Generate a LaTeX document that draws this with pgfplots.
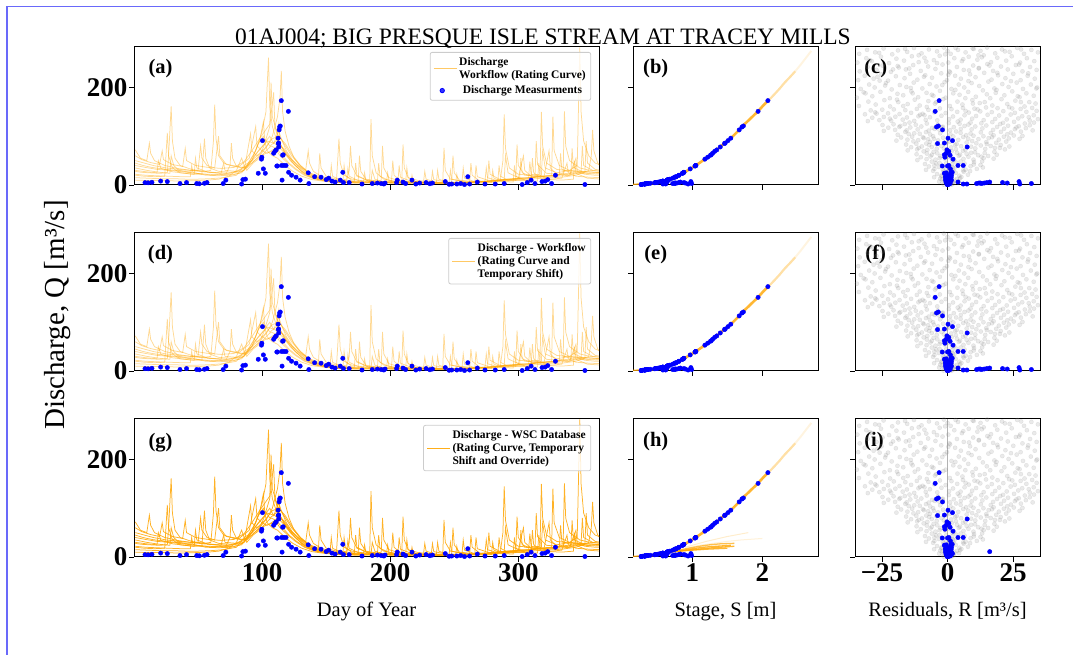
\documentclass[border=0pt]{standalone}
\usepackage{fontspec}
\setmainfont{Liberation Serif}
\usepackage{pgfplots}
\usepackage{pgfplotstable}
\pgfplotsset{compat=1.18}

\definecolor{qorange}{RGB}{255,165,0}
\definecolor{frameblue}{RGB}{105,105,250}
\definecolor{legframe}{RGB}{204,204,204}
\definecolor{zeroline}{RGB}{178,178,178}

\newcommand{\tickfont}{\bfseries\fontsize{27}{27}\selectfont}
\newcommand{\legfont}{\bfseries\fontsize{11.5}{13}\selectfont}
\newcommand{\panfont}{\bfseries\fontsize{20.5}{21}\selectfont}
\newcommand{\labfont}{\fontsize{20.5}{21}\selectfont}

% daily discharge, one table per year (day, Q)
\pgfplotstableread[row sep=\\]{d q\\
1 35\\ 10 30\\ 20 26\\ 28 24\\ 29 60\\ 31 40\\ 35 30\\ 45 25\\ 55 22\\ 62 20\\ 70 22\\ 80 28\\ 88 40\\ 95 70\\ 100 110\\ 103 150\\ 105 261\\ 106 160\\ 108 120\\ 111 95\\ 115 80\\ 120 60\\ 126 40\\ 132 25\\ 140 15\\ 150 9\\ 160 6\\ 170 5\\ 180 4\\ 185 5\\ 186 30\\ 188 12\\ 195 6\\ 210 4\\ 225 3\\ 240 3\\ 250 4\\ 260 5\\ 270 6\\ 280 8\\ 289 10\\ 290 60\\ 292 25\\ 300 15\\ 310 14\\ 318 20\\ 319 70\\ 321 35\\ 330 25\\ 340 30\\ 346 40\\ 348 282\\ 349 150\\ 351 90\\ 355 60\\ 360 45\\ 365 40\\
}\hA
\pgfplotstableread[row sep=\\]{d q\\
1 50\\ 8 45\\ 15 40\\ 25 35\\ 35 32\\ 45 30\\ 55 28\\ 60 30\\ 62 90\\ 63 165\\ 64 95\\ 66 60\\ 70 45\\ 78 38\\ 85 35\\ 92 45\\ 98 60\\ 104 80\\ 108 100\\ 112 140\\ 114 180\\ 115 234\\ 116 150\\ 118 110\\ 121 80\\ 125 55\\ 130 38\\ 136 25\\ 142 16\\ 150 10\\ 158 7\\ 159 50\\ 160 95\\ 161 45\\ 164 20\\ 170 12\\ 180 8\\ 190 6\\ 200 5\\ 209 5\\ 210 83\\ 211 35\\ 214 15\\ 222 9\\ 235 6\\ 250 5\\ 265 5\\ 278 6\\ 290 8\\ 298 9\\ 299 83\\ 300 40\\ 305 20\\ 315 18\\ 326 20\\ 327 140\\ 328 70\\ 332 40\\ 340 30\\ 350 28\\ 360 26\\ 365 25\\
}\hB
\pgfplotstableread[row sep=\\]{d q\\
1 28\\ 6 26\\ 12 25\\ 20 24\\ 26 25\\ 27 60\\ 29 161\\ 30 90\\ 32 55\\ 36 40\\ 45 32\\ 55 28\\ 65 25\\ 75 24\\ 85 28\\ 92 50\\ 97 70\\ 102 85\\ 106 120\\ 109 190\\ 110 120\\ 113 90\\ 117 70\\ 122 50\\ 128 35\\ 134 22\\ 140 14\\ 148 9\\ 156 6\\ 165 5\\ 175 4\\ 184 5\\ 185 135\\ 186 60\\ 189 25\\ 195 12\\ 205 7\\ 218 5\\ 230 4\\ 241 4\\ 242 76\\ 243 30\\ 247 12\\ 258 7\\ 270 6\\ 282 8\\ 295 12\\ 308 15\\ 320 18\\ 330 20\\ 335 25\\ 336 151\\ 337 80\\ 340 50\\ 348 35\\ 356 30\\ 365 28\\
}\hC
\pgfplotstableread[row sep=\\]{d q\\
1 72\\ 5 55\\ 10 50\\ 12 86\\ 13 65\\ 16 50\\ 24 40\\ 34 34\\ 44 30\\ 54 27\\ 64 25\\ 72 24\\ 75 40\\ 76 86\\ 77 55\\ 80 38\\ 88 35\\ 94 60\\ 99 75\\ 104 90\\ 110 85\\ 116 70\\ 122 55\\ 128 40\\ 134 30\\ 136 70\\ 137 45\\ 140 28\\ 146 18\\ 155 11\\ 165 8\\ 176 6\\ 190 5\\ 205 4\\ 220 4\\ 235 4\\ 248 4\\ 249 60\\ 250 25\\ 254 10\\ 265 7\\ 276 8\\ 286 10\\ 288 50\\ 289 145\\ 290 75\\ 293 35\\ 300 22\\ 310 20\\ 317 22\\ 318 150\\ 319 80\\ 322 45\\ 330 32\\ 342 28\\ 355 27\\ 365 25\\
}\hD
\pgfplotstableread[row sep=\\]{d q\\
1 20\\ 8 18\\ 16 17\\ 24 18\\ 26 107\\ 27 60\\ 30 35\\ 36 25\\ 46 22\\ 53 22\\ 55 95\\ 56 55\\ 59 35\\ 66 28\\ 76 26\\ 86 30\\ 91 105\\ 92 70\\ 96 60\\ 102 75\\ 108 95\\ 113 100\\ 118 85\\ 124 60\\ 130 40\\ 137 25\\ 144 18\\ 145 65\\ 146 35\\ 150 18\\ 158 12\\ 166 9\\ 168 30\\ 169 80\\ 170 40\\ 174 18\\ 182 10\\ 192 7\\ 200 7\\ 215 5\\ 230 4\\ 245 4\\ 260 5\\ 272 6\\ 284 8\\ 296 10\\ 308 12\\ 320 14\\ 334 16\\ 345 20\\ 355 30\\ 357 60\\ 358 113\\ 359 70\\ 362 45\\ 365 35\\
}\hE
\pgfplotstableread[row sep=\\]{d q\\
1 45\\ 7 40\\ 14 36\\ 22 33\\ 32 30\\ 42 28\\ 50 30\\ 52 80\\ 53 55\\ 57 40\\ 63 35\\ 66 100\\ 67 60\\ 72 42\\ 82 38\\ 90 55\\ 95 120\\ 96 80\\ 100 70\\ 104 65\\ 110 75\\ 114 60\\ 120 45\\ 126 32\\ 133 20\\ 140 13\\ 150 8\\ 160 6\\ 168 5\\ 175 6\\ 176 60\\ 177 28\\ 181 12\\ 190 8\\ 193 10\\ 194 80\\ 195 35\\ 199 15\\ 208 8\\ 220 6\\ 232 5\\ 244 5\\ 256 5\\ 268 6\\ 280 9\\ 292 12\\ 304 14\\ 316 16\\ 328 20\\ 340 22\\ 352 24\\ 365 22\\
}\hF
\pgfplotstableread[row sep=\\]{d q\\
1 15\\ 10 14\\ 20 13\\ 30 13\\ 40 12\\ 50 12\\ 60 13\\ 70 15\\ 80 20\\ 86 40\\ 88 30\\ 93 45\\ 98 55\\ 103 70\\ 107 80\\ 111 75\\ 116 60\\ 121 45\\ 127 32\\ 134 20\\ 142 12\\ 150 8\\ 157 6\\ 163 5\\ 164 40\\ 165 20\\ 170 9\\ 180 6\\ 192 5\\ 203 4\\ 212 4\\ 213 35\\ 214 15\\ 220 7\\ 228 4\\ 236 4\\ 237 30\\ 238 12\\ 245 5\\ 255 4\\ 262 4\\ 263 45\\ 264 20\\ 270 8\\ 278 6\\ 284 6\\ 285 40\\ 286 18\\ 292 10\\ 302 9\\ 310 10\\ 311 55\\ 312 25\\ 318 14\\ 326 12\\ 334 14\\ 338 45\\ 339 25\\ 345 18\\ 355 16\\ 365 15\\
}\hG
\pgfplotstableread[row sep=\\]{d q\\
1 40\\ 9 36\\ 18 32\\ 28 30\\ 38 27\\ 48 24\\ 58 22\\ 68 21\\ 78 22\\ 84 25\\ 90 45\\ 94 55\\ 99 65\\ 103 90\\ 106 100\\ 109 85\\ 113 110\\ 115 95\\ 119 70\\ 124 50\\ 130 35\\ 136 23\\ 142 16\\ 148 12\\ 154 10\\ 160 9\\ 166 12\\ 167 35\\ 168 18\\ 175 9\\ 185 7\\ 195 6\\ 201 6\\ 202 50\\ 203 20\\ 208 9\\ 218 6\\ 226 6\\ 227 28\\ 228 12\\ 235 6\\ 246 5\\ 256 5\\ 266 6\\ 274 8\\ 275 35\\ 276 15\\ 282 10\\ 291 12\\ 300 14\\ 304 60\\ 305 30\\ 310 18\\ 320 16\\ 324 70\\ 325 35\\ 330 22\\ 340 20\\ 345 55\\ 346 28\\ 352 22\\ 360 20\\ 365 20\\
}\hH
\pgfplotstableread[row sep=\\]{d q\\
1 10\\ 12 9\\ 24 9\\ 36 8\\ 48 9\\ 58 10\\ 66 12\\ 74 18\\ 80 30\\ 84 55\\ 86 40\\ 92 50\\ 97 85\\ 101 100\\ 104 70\\ 108 60\\ 112 55\\ 118 40\\ 124 28\\ 131 18\\ 139 11\\ 147 8\\ 155 6\\ 162 5\\ 171 4\\ 179 4\\ 180 25\\ 181 10\\ 188 5\\ 198 4\\ 207 3\\ 216 3\\ 217 20\\ 218 8\\ 226 4\\ 238 3\\ 251 3\\ 252 22\\ 253 9\\ 260 4\\ 271 4\\ 279 5\\ 280 30\\ 281 14\\ 288 7\\ 296 6\\ 297 40\\ 298 18\\ 306 9\\ 315 8\\ 316 45\\ 317 20\\ 325 11\\ 334 10\\ 343 12\\ 344 50\\ 345 24\\ 354 14\\ 365 12\\
}\hI
\pgfplotstableread[row sep=\\]{d q\\
1 60\\ 6 52\\ 13 46\\ 20 42\\ 22 70\\ 23 52\\ 30 42\\ 38 38\\ 40 75\\ 41 50\\ 48 40\\ 58 36\\ 68 34\\ 78 36\\ 86 48\\ 92 70\\ 98 95\\ 102 110\\ 106 125\\ 107 210\\ 108 140\\ 112 105\\ 117 85\\ 123 60\\ 129 42\\ 135 28\\ 142 18\\ 150 12\\ 158 9\\ 166 7\\ 172 7\\ 173 45\\ 174 20\\ 182 9\\ 191 7\\ 200 6\\ 206 6\\ 207 40\\ 208 16\\ 216 8\\ 226 6\\ 238 5\\ 246 5\\ 247 30\\ 248 12\\ 258 6\\ 270 7\\ 281 9\\ 293 11\\ 301 13\\ 302 55\\ 303 25\\ 312 16\\ 322 18\\ 332 20\\ 333 65\\ 334 32\\ 343 24\\ 352 26\\ 353 90\\ 354 45\\ 360 32\\ 365 30\\
}\hJ
\pgfplotstableread[row sep=\\]{d q\\
1 30\\ 10 27\\ 18 25\\ 19 50\\ 21 34\\ 30 27\\ 40 24\\ 47 22\\ 48 55\\ 49 35\\ 58 26\\ 68 24\\ 70 45\\ 71 30\\ 80 28\\ 87 35\\ 93 60\\ 98 90\\ 101 130\\ 102 95\\ 106 80\\ 111 90\\ 113 125\\ 114 85\\ 119 60\\ 125 42\\ 131 28\\ 138 18\\ 146 12\\ 153 9\\ 154 40\\ 155 18\\ 162 9\\ 172 7\\ 184 6\\ 190 6\\ 191 45\\ 192 18\\ 200 8\\ 212 6\\ 224 5\\ 232 5\\ 233 28\\ 234 11\\ 244 6\\ 256 5\\ 266 6\\ 267 40\\ 268 17\\ 277 9\\ 290 10\\ 308 13\\ 309 48\\ 310 22\\ 320 16\\ 330 18\\ 341 20\\ 342 75\\ 343 36\\ 352 25\\ 365 24\\
}\hK
\pgfplotstableread[row sep=\\]{d q\\
1 22\\ 9 20\\ 17 19\\ 27 18\\ 37 17\\ 44 17\\ 45 40\\ 46 26\\ 56 20\\ 66 19\\ 76 20\\ 82 24\\ 88 35\\ 94 50\\ 99 60\\ 103 65\\ 109 70\\ 112 80\\ 117 75\\ 122 55\\ 128 38\\ 134 25\\ 141 16\\ 148 11\\ 156 8\\ 165 6\\ 175 5\\ 186 4\\ 197 4\\ 198 25\\ 199 10\\ 206 5\\ 219 4\\ 230 4\\ 242 4\\ 254 5\\ 256 5\\ 257 35\\ 258 14\\ 266 7\\ 276 7\\ 277 50\\ 278 22\\ 286 11\\ 296 12\\ 305 14\\ 313 16\\ 314 90\\ 315 42\\ 322 24\\ 331 22\\ 339 24\\ 349 26\\ 350 80\\ 351 40\\ 358 30\\ 365 28\\
}\hL

% measurements: day, Q, stage, residual (workflow), residual (WSC)
\pgfplotstableread[row sep=\\]{d q s r ri\\
8.6 4.8 0.47 0.5 0.5\\ 11 4.5 0.46 -0.3 -0.3\\ 14 5.5 0.50 0.8 0.8\\ 20.8 8 0.58 1.2 1.2\\ 26 7 0.55 -0.6 -0.6\\
35.9 3 0.36 0.2 0.2\\ 41 5 0.48 0.9 0.9\\ 49 3 0.36 -0.2 -0.2\\ 51 2.5 0.34 0.4 0.4\\ 55 3.5 0.40 0.1 0.1\\
57 5 0.48 -0.5 -0.5\\ 69.6 3 0.36 0.6 0.6\\ 71.7 10 0.64 1.5 1.5\\ 84 2 0.32 0.3 0.3\\ 85 11 0.66 -0.8 -0.8\\
87 12 0.68 0.7 0.7\\ 97 24 0.86 -1.2 -1.2\\ 99.5 53 1.18 2.1 2.1\\ 99.8 57 1.22 -1.0 -1.0\\ 100.3 91 1.51 1.9 1.9\\
101 33 0.97 1.1 1.1\\ 102.5 24 0.86 -0.9 -0.9\\ 109 65 1.29 -0.5 -0.5\\ 110 69 1.32 0.5 0.5\\ 111 72 1.35 -0.2 -0.2\\
111.5 39 1.04 -2.0 -2.0\\ 112 39 1.04 0.0 0.0\\ 112.5 96 1.55 0.2 0.2\\ 112.7 85 1.46 -3.8 -3.8\\ 112.9 86 1.47 -1.2 -1.2\\
113 78 1.40 7.5 7.5\\ 113.3 113 1.67 -1.9 -1.9\\ 113.7 119 1.71 -4.2 -4.2\\ 114.2 121 1.73 -3.5 -3.5\\ 115 173 2.08 -3.2 -3.2\\
115.3 40 1.05 4.0 4.0\\ 115.6 10 0.64 1.0 1.0\\ 116 61 1.26 1.0 1.0\\ 116.5 62 1.27 -1.2 -1.2\\ 117 40 1.05 6.0 6.0\\
118.7 40 1.05 0.5 0.5\\ 120.5 151 1.94 -4.7 -4.7\\ 120.7 26 0.88 1.3 1.3\\ 123 20 0.81 0.6 0.6\\ 126.5 16 0.75 -0.4 -0.4\\
129.7 10 0.64 0.9 0.9\\ 136 25 0.87 -0.5 -0.5\\ 136.5 3 0.36 1.0 1.0\\ 141 17 0.77 -0.8 -0.8\\ 146 16 0.75 1.4 1.4\\
150 11 0.66 0.3 0.3\\ 152 14 0.72 -0.6 -0.6\\ 154.5 8 0.58 0.4 0.4\\ 157 6 0.52 0.8 0.8\\ 161 10 0.64 -0.2 -0.2\\
163 26 0.88 1.8 1.8\\ 163.5 5 0.48 0.5 0.5\\ 168 5 0.48 -0.4 -0.4\\ 178 2 0.58 6.0 0.3\\ 186 3 0.72 11.1 0.6\\
190 4 0.75 12.0 -0.2\\ 193 3 0.75 13.0 0.4\\ 195 2 0.32 0.5 0.5\\ 196 4 0.78 14.0 0.8\\ 205 5 0.81 15.0 0.2\\
205.5 10 0.64 -0.3 -0.3\\ 210 6 0.83 16.1 1.1\\ 212 3 0.36 0.2 0.2\\ 217 10 0.64 0.8 0.8\\ 220 2 0.32 -0.1 -0.1\\
223 4 0.76 12.5 0.5\\ 228 5 0.88 21.0 1.4\\ 231 2.5 0.34 0.3 0.3\\ 233 4 0.90 22.8 0.7\\ 243 7 0.98 27.3 1.9\\
246 1.5 0.29 0.1 0.1\\ 248 2 0.94 27.6 0.9\\ 252 2 0.32 0.6 0.6\\ 255 3 0.99 32.0 1.2\\ 258 1 0.27 0.0 0.0\\
260.6 17 0.77 -0.7 -0.7\\ 262 2 0.32 0.4 0.4\\ 268 6 0.64 4.0 0.6\\ 274 2 0.62 7.4 0.3\\ 282 2 0.32 0.2 0.2\\
289 3 0.36 0.5 0.5\\ 303 1 0.27 -0.1 -0.1\\ 307 5 0.48 0.7 0.7\\ 310 10 0.64 1.2 1.2\\ 313 3 0.36 0.3 0.3\\
318.5 7 0.55 -0.4 -0.4\\ 321 8 0.58 0.9 0.9\\ 323 11 0.66 0.6 16.1\\ 326 3 0.36 0.2 0.2\\ 329 20 0.81 1.5 1.5\\
352 1 0.27 0.1 0.1\\
}\meas

% rating curve (stage, Q)
\pgfplotstableread[row sep=\\]{s q\\
0.15 0\\ 0.22 0.5\\ 0.3 1.5\\ 0.38 2.6\\ 0.45 4\\ 0.52 6\\ 0.6 8.5\\ 0.68 12\\ 0.75 16\\ 0.82 21\\ 0.9 27\\ 0.97 33\\ 1.05 40\\ 1.12 47\\ 1.2 55\\ 1.28 63\\ 1.35 72\\ 1.42 81\\ 1.5 90\\ 1.58 100\\ 1.65 110\\ 1.72 121\\ 1.8 132\\ 1.88 143\\ 1.95 153\\ 2.02 164\\ 2.1 175\\
}\rca
\pgfplotstableread[row sep=\\]{s q\\
2.1 175\\ 2.18 187\\ 2.25 198\\ 2.32 210\\ 2.4 222\\ 2.47 233\\
}\rcb
\pgfplotstableread[row sep=\\]{s q\\
2.47 233\\ 2.55 247\\ 2.62 260\\ 2.7 275\\
}\rcc

% residual cloud of the daily series (R, Q)
\pgfplotstableread[row sep=\\]{r q\\
-1.5 1\\ 0.4 2\\ 1.8 1.5\\ -0.6 3.5\\ 2.5 4\\ 0.9 5\\ -1.9 4.8\\ 1.2 0.8\\
-3.2 7\\ 2.1 6.5\\ 4.4 8\\ -1.1 9.5\\ 0.6 11\\ 3.6 12.5\\ -2.8 13\\ 1.5 14.5\\ -0.3 7.5\\ 4.8 14\\
-5.1 16\\ -2.4 18\\ 1.2 17\\ 4.5 19\\ 7.8 21\\ -4.0 22.5\\ 0.3 24\\ 3.1 25\\ 6.2 27\\ 8.6 28.5\\ -1.5 27\\ -5.5 29\\ 2.2 29.5\\ 5.3 16.5\\
-8.2 31\\ -5.0 33\\ -1.8 32\\ 2.6 34\\ 6.9 31.5\\ 11.2 33\\ 13.5 36\\ -7.1 38\\ -3.3 37\\ 0.8 39\\ 4.1 40\\ 8.8 38.5\\ 12.6 41\\ -8.6 43\\ -4.4 44.5\\ -0.5 45\\ 3.3 46\\ 6.5 44\\ 10.1 47\\ 13.2 48.5\\ -6.0 48\\ 1.9 49.5\\
-11.5 51\\ -8.0 53\\ -4.6 52\\ -1.0 54\\ 2.5 51.5\\ 6.1 53.5\\ 9.9 52\\ 13.8 55\\ 17.6 54\\ -10.2 57\\ -6.5 58.5\\ -2.7 59\\ 0.7 57.5\\ 4.3 60\\ 8.0 58\\ 11.7 61\\ 15.5 59.5\\ 18.8 62\\ -11.8 63\\ -7.9 64.5\\ -3.9 65\\ -0.2 63.5\\ 3.6 66\\ 7.3 64\\ 10.5 67\\ 14.2 65.5\\ 17.9 68\\ -9.1 69\\ -5.3 68\\ 1.6 69.5\\ 5.9 70\\
-15.2 71\\ -11.6 73\\ -7.7 72\\ -4.1 74\\ -0.6 71.5\\ 3.2 73.5\\ 6.8 72.5\\ 10.6 75\\ 14.4 74\\ 18.1 76\\ 21.9 73\\ -13.9 77.5\\ -9.8 79\\ -6.0 78\\ -2.3 80\\ 1.4 77\\ 5.2 79.5\\ 9.0 78.5\\ 12.7 81\\ 16.5 80\\ 20.3 82\\ 23.6 79\\ -15.8 83\\ -11.9 84.5\\ -8.1 85\\ -4.2 83.5\\ -0.4 86\\ 3.5 84\\ 7.3 87\\ 11.0 85.5\\ 14.8 88\\ 18.6 86.5\\ 22.4 89\\ -13.0 89.5\\ -6.7 88.5\\ 0.9 89\\ 9.4 90\\
-19.5 91\\ -15.3 93\\ -11.2 92\\ -7.4 94\\ -3.6 91.5\\ 0.2 93.5\\ 4.1 92.5\\ 7.9 95\\ 11.8 94\\ 15.7 96\\ 19.6 93\\ 23.4 95.5\\ 27.5 94.5\\ -17.7 97.5\\ -13.5 99\\ -9.4 98\\ -5.5 100\\ -1.7 97\\ 2.2 99.5\\ 6.0 98.5\\ 9.9 101\\ 13.7 100\\ 17.6 102\\ 21.5 99\\ 25.3 101.5\\ 28.6 100.5\\ -19.0 103\\ -14.8 104.5\\ -10.6 105\\ -6.6 103.5\\ -2.8 106\\ 1.1 104\\ 5.0 107\\ 8.8 105.5\\ 12.7 108\\ 16.5 106.5\\ 20.4 109\\ 24.2 107.5\\ 28.0 109.5\\ -16.1 109\\ -8.2 108.5\\ 3.3 109.8\\
-24.3 111\\ -20.0 113\\ -15.6 112\\ -11.4 114\\ -7.2 111.5\\ -3.1 113.5\\ 1.0 112.5\\ 5.1 115\\ 9.2 114\\ 13.3 116\\ 17.4 113\\ 21.6 115.5\\ 25.7 114.5\\ 29.9 116.5\\ 32.5 112\\ -22.6 117.5\\ -18.4 119\\ -14.2 118\\ -10.0 120\\ -5.9 117\\ -1.8 119.5\\ 2.4 118.5\\ 6.5 121\\ 10.6 120\\ 14.8 122\\ 18.9 119\\ 23.1 121.5\\ 27.2 120.5\\ 31.4 122.5\\ -24.8 123\\ -20.6 124.5\\ -16.3 125\\ -12.1 123.5\\ -7.9 126\\ -3.7 124\\ 0.5 127\\ 4.6 125.5\\ 8.8 128\\ 12.9 126.5\\ 17.1 129\\ 21.2 127.5\\ 25.4 129.5\\ 29.5 126\\ 33.0 128\\
-30.4 131\\ -26.0 133\\ -21.5 132\\ -17.1 134\\ -12.7 131.5\\ -8.3 133.5\\ -3.9 132.5\\ 0.6 135\\ 5.0 134\\ 9.4 136\\ 13.8 133\\ 18.2 135.5\\ 22.6 134.5\\ 27.0 136.5\\ 31.4 132\\ 34.5 135\\ -28.7 138\\ -24.3 139.5\\ -19.9 140\\ -15.5 138.5\\ -11.1 141\\ -6.7 139\\ -2.3 142\\ 2.1 140.5\\ 6.5 143\\ 10.9 141.5\\ 15.3 144\\ 19.7 142.5\\ 24.1 144.5\\ 28.5 141\\ 32.9 143\\ -31.5 145\\ -27.1 146.5\\ -22.7 147\\ -18.3 145.5\\ -13.9 148\\ -9.5 146\\ -5.1 149\\ -0.7 147.5\\ 3.7 150\\ 8.1 148.5\\ 12.5 151\\ 16.9 149.5\\ 21.3 151.5\\ 25.7 148\\ 30.1 150\\ 34.0 152\\ -29.3 153\\ -24.9 154.5\\ -20.5 155\\ -16.1 153.5\\ -11.7 156\\ -7.3 154\\ -2.9 157\\ 1.5 155.5\\ 5.9 158\\ 10.3 156.5\\ 14.7 159\\ 19.1 157.5\\ 23.5 159.5\\ 27.9 156\\ 32.3 158\\
-33.8 162\\ -27.4 165\\ -21.9 161\\ -15.2 166\\ -10.6 163\\ -4.8 167\\ 0.9 162\\ 5.7 165\\ 12.3 168\\ 17.1 163\\ 22.8 166\\ 29.4 161\\ 33.6 167\\
-30.2 171\\ -24.1 174\\ -18.8 170\\ -12.5 175\\ -7.3 172\\ -1.6 176\\ 3.8 171\\ 9.5 174\\ 14.2 170\\ 20.6 176\\ 25.9 173\\ 31.2 170\\
-34.6 179\\ -28.7 182\\ -22.0 178\\ -16.9 184\\ -11.2 180\\ -5.4 183\\ -0.7 179\\ 4.6 185\\ 10.8 181\\ 16.3 178\\ 21.7 184\\ 27.5 180\\ 32.9 183\\
-31.3 188\\ -25.6 191\\ -19.1 187\\ -13.8 192\\ -8.0 189\\ -2.9 193\\ 2.2 188\\ 7.9 191\\ 13.5 194\\ 18.4 189\\ 24.7 192\\ 30.1 188\\
-33.1 197\\ -27.8 200\\ -21.3 196\\ -15.7 201\\ -9.6 198\\ -4.2 202\\ 1.5 197\\ 6.4 200\\ 12.1 203\\ 17.9 198\\ 23.3 201\\ 28.8 197\\ 34.2 200\\
-29.9 206\\ -23.5 209\\ -18.2 205\\ -12.9 210\\ -6.8 207\\ -1.1 211\\ 4.3 206\\ 9.2 209\\ 15.6 212\\ 20.9 207\\ 26.4 210\\ 31.8 206\\
-34.1 215\\ -28.2 218\\ -22.7 214\\ -16.4 219\\ -11.5 216\\ -5.9 220\\ -0.2 215\\ 5.1 218\\ 10.7 221\\ 16.8 216\\ 22.1 219\\ 27.9 215\\ 33.3 218\\
-31.6 224\\ -25.2 227\\ -19.7 223\\ -14.3 228\\ -8.5 225\\ -2.4 229\\ 2.9 224\\ 8.6 227\\ 14.0 230\\ 19.3 225\\ 25.1 228\\ 30.6 224\\
-33.5 233\\ -27.1 236\\ -21.6 232\\ -15.9 237\\ -10.2 234\\ -4.6 238\\ 0.7 233\\ 6.2 236\\ 11.9 239\\ 17.4 234\\ 23.0 237\\ 28.6 233\\ 34.0 236\\
-30.5 242\\ -24.8 245\\ -18.6 241\\ -13.1 246\\ -7.4 243\\ -1.9 247\\ 3.6 242\\ 9.8 245\\ 15.2 248\\ 20.4 243\\ 26.1 246\\ 31.5 242\\
-34.4 251\\ -28.9 254\\ -22.3 250\\ -16.6 255\\ -11.0 252\\ -5.2 256\\ 0.3 251\\ 5.5 254\\ 11.4 257\\ 16.6 252\\ 22.4 255\\ 27.7 251\\ 33.1 254\\
-31.0 260\\ -25.4 263\\ -19.5 259\\ -13.6 264\\ -8.8 261\\ -3.0 265\\ 2.6 260\\ 8.1 263\\ 13.8 266\\ 19.0 261\\ 24.5 264\\ 30.3 260\\
-33.7 269\\ -27.6 272\\ -21.1 268\\ -15.4 273\\ -9.9 270\\ -4.0 274\\ 1.2 269\\ 6.9 272\\ 12.6 275\\ 18.2 270\\ 23.7 273\\ 29.2 269\\ 34.5 272\\
-30.7 277\\ -24.4 280\\ -18.9 276\\ -12.8 281\\ -7.1 278\\ -1.4 282\\ 4.0 277\\ 9.6 280\\ 15.1 282\\ 20.8 278\\ 26.6 281\\ 32.0 277\\
-6 185\\ 3 195\\ -2 205\\ 8 213\\ -9 222\\ 1 231\\ 12 240\\ -4 250\\ 6 258\\ -11 266\\ 0 275\\ 10 279\\ -14 199\\ 15 186\\ 19 230\\ -19 244\\
-2.2 20\\ 0.9 26\\ -0.8 35\\ 1.7 42\\ -3.0 55\\ 4.8 62\\ -1.4 75\\ 2.9 82\\ -5.2 95\\ 7.1 102\\ -2.0 118\\ 3.9 130\\ -8.8 143\\ 11.5 155\\ -4.3 170\\ 6.8 178\\ -13.3 188\\ 18.7 195\\ -23.8 204\\ 24.2 213\\ -26.7 222\\ 0.3 226\\ 8.2 235\\ -14.6 239\\ 27.3 247\\ -29.6 256\\ 13.1 262\\ -0.9 268\\ 21.9 274\\ -16.2 279\\ 3.1 281\\ -7.9 160\\ 9.7 167\\ -19.3 175\\ 26.8 182\\ -32.0 190\\ 33.9 198\\ -25.9 214\\ 30.8 229\\ -20.8 237\\ 16.0 245\\ -8.1 253\\ 11.8 266\\ -26.1 271\\ 28.1 278\\
-14.5 128\\ 20.1 125\\ -22.0 136\\ 31.0 139\\ -10.5 144\\ 6.9 152\\ -27.6 149\\ 24.7 157\\ -16.9 162\\ 28.0 170\\ -9.0 96\\ 17.0 98\\ -12.7 106\\ 22.8 104\\ -4.9 115\\ 26.3 118\\ -18.0 121\\ 8.0 124\\ 15.0 84\\ -7.0 82\\ 20.0 76\\ -11.0 76\\ 9.0 66\\ -6.0 62\\ 13.0 58\\ 5.0 48\\ -3.0 45\\ 10.0 42\\ 2.0 36\\ -5.0 40\\ 6.0 30\\ 1.0 22\\ -2.0 12\\ 2.7 9\\ 0.2 5.5\\
}\gr

\pgfplotsset{
  qpanel/.style={
    scale only axis, height=138pt, ymin=0, ymax=283, ytick={0,200},
    axis line style={line width=1pt},
    every tick/.style={black, line width=0.9pt},
    tick align=outside, major tick length=5pt, tick pos=left,
    tick label style={font=\tickfont, inner sep=1.5pt},
    /pgf/number format/assume math mode=true,
    /pgf/number format/1000 sep={},
  },
  wide/.style={qpanel, width=465pt, xmin=0, xmax=363, xtick={100,200,300}},
  stage/.style={qpanel, width=185pt, xmin=0.153, xmax=2.796, xtick={1,2}, yticklabels={,}},
  resid/.style={qpanel, width=185pt, xmin=-35.3, xmax=35.3, xtick={-25,0,25}, yticklabels={,}},
  nox/.style={xticklabels={,,}},
  hyl/.style={qorange, opacity=0.42, line width=0.75pt},
  hyd/.style={qorange, opacity=0.85, line width=0.75pt},
  mst/.style={only marks, mark=*, mark size=2.2pt, color=blue, mark options={draw=none, fill=blue}},
  gst/.style={only marks, mark=*, mark size=2.1pt, color=gray, opacity=0.17, mark options={draw=none}},
  qleg/.style={legend style={at={(0.983,#1)}, anchor=north east, draw=legframe, line width=0.8pt,
    rounded corners=2pt, fill=white, fill opacity=0.8, text opacity=1, draw opacity=1,
    font=\legfont, cells={align=left}, inner sep=3pt, row sep=2pt}},
  oleg/.style={legend image code/.code={\draw[qorange, opacity=#1, line width=1pt] (0pt,0pt) -- (23pt,0pt);}},
}

\newcommand{\hydrorest}[1]{%
  \addplot[#1, forget plot] table[x=d,y=q]{\hB};
  \addplot[#1, forget plot] table[x=d,y=q]{\hC};
  \addplot[#1, forget plot] table[x=d,y=q]{\hD};
  \addplot[#1, forget plot] table[x=d,y=q]{\hE};
  \addplot[#1, forget plot] table[x=d,y=q]{\hF};
  \addplot[#1, forget plot] table[x=d,y=q]{\hG};
  \addplot[#1, forget plot] table[x=d,y=q]{\hH};
  \addplot[#1, forget plot] table[x=d,y=q]{\hI};
  \addplot[#1, forget plot] table[x=d,y=q]{\hJ};
  \addplot[#1, forget plot] table[x=d,y=q]{\hK};
  \addplot[#1, forget plot] table[x=d,y=q]{\hL};
}
\newcommand{\ratingcurve}{%
  \addplot[qorange, opacity=0.8, line width=2.6pt] table[x=s,y=q]{\rca};
  \addplot[qorange, opacity=0.35, line width=2.2pt] table[x=s,y=q]{\rcb};
  \addplot[qorange, opacity=0.12, line width=2pt] table[x=s,y=q]{\rcc};
}
\newcommand{\residcloud}{%
  \addplot[gst] table[x=r,y=q]{\gr};
  \addplot[zeroline, line width=1.6pt] coordinates {(0,0) (0,283)};
}

\begin{document}
\begin{tikzpicture}
\useasboundingbox (0pt,0pt) rectangle (1073pt,655pt);
\draw[frameblue, line width=1.6pt] (6.8pt,0pt) -- (6.8pt,648.4pt) -- (1073pt,648.4pt);
\node[font=\fontsize{23.5}{24}\selectfont, anchor=base] at (543pt,610pt) {01AJ004; BIG PRESQUE ISLE STREAM AT TRACEY MILLS};
\node[font=\fontsize{29}{29}\selectfont, rotate=90] at (58pt,340pt) {Discharge, Q [m³/s]};
\node[font=\labfont, anchor=base] at (366.5pt,38pt) {Day of Year};
\node[font=\labfont, anchor=base] at (725.5pt,38pt) {Stage, S [m]};
\node[font=\labfont, anchor=base] at (947.5pt,38pt) {Residuals, R [m³/s]};

% ---- row 1 ----
\begin{axis}[wide, nox, at={(134pt,470pt)}, anchor=south west, qleg=0.964]
  \addplot[hyl, oleg=0.6] table[x=d,y=q]{\hA};
  \addlegendentry{Discharge\\ Workflow (Rating Curve)}
  \hydrorest{hyl}
  \addplot[mst] table[x=d,y=q]{\meas};
  \addlegendentry{Discharge Measurments}
  \node[font=\panfont] at (rel axis cs:0.057,0.843) {(a)};
\end{axis}
\begin{axis}[stage, nox, at={(633pt,470pt)}, anchor=south west]
  \ratingcurve
  \addplot[mst] table[x=s,y=q]{\meas};
  \node[font=\panfont] at (rel axis cs:0.123,0.843) {(b)};
\end{axis}
\begin{axis}[resid, nox, at={(855pt,470pt)}, anchor=south west]
  \residcloud
  \addplot[mst] table[x=r,y=q]{\meas};
  \node[font=\panfont] at (rel axis cs:0.112,0.843) {(c)};
\end{axis}

% ---- row 2 ----
\begin{axis}[wide, nox, at={(134pt,284pt)}, anchor=south west, qleg=0.964]
  \addplot[hyl, oleg=0.6] table[x=d,y=q]{\hA};
  \addlegendentry{Discharge - Workflow\\ (Rating Curve and\\ Temporary Shift)}
  \hydrorest{hyl}
  \addplot[mst, forget plot] table[x=d,y=q]{\meas};
  \node[font=\panfont] at (rel axis cs:0.057,0.843) {(d)};
\end{axis}
\begin{axis}[stage, nox, at={(633pt,284pt)}, anchor=south west]
  \ratingcurve
  \addplot[mst] table[x=s,y=q]{\meas};
  \node[font=\panfont] at (rel axis cs:0.123,0.843) {(e)};
\end{axis}
\begin{axis}[resid, nox, at={(855pt,284pt)}, anchor=south west]
  \residcloud
  \addplot[mst] table[x=r,y=q]{\meas};
  \node[font=\panfont] at (rel axis cs:0.112,0.843) {(f)};
\end{axis}

% ---- row 3 ----
\begin{axis}[wide, at={(134pt,98pt)}, anchor=south west, qleg=0.957]
  \addplot[hyd, oleg=0.9] table[x=d,y=q]{\hA};
  \addlegendentry{Discharge - WSC Database\\ (Rating Curve, Temporary\\ Shift and Override)}
  \hydrorest{hyd}
  \addplot[mst, forget plot] table[x=d,y=q]{\meas};
  \node[font=\panfont] at (rel axis cs:0.057,0.83) {(g)};
\end{axis}
\begin{axis}[stage, at={(633pt,98pt)}, anchor=south west]
  \ratingcurve
  \addplot[qorange, opacity=0.8, line width=1.3pt] coordinates {(0.70,10) (0.85,12.5) (1.0,15) (1.15,17) (1.3,19) (1.45,20.5) (1.6,22)};
  \addplot[qorange, opacity=0.8, line width=1.3pt] coordinates {(0.75,11) (0.9,14.5) (1.05,18) (1.2,20.5) (1.35,22) (1.55,24)};
  \addplot[qorange, opacity=0.7, line width=1.3pt] coordinates {(0.8,14) (0.95,18) (1.1,22) (1.25,25) (1.4,27) (1.6,28)};
  \addplot[qorange, opacity=0.8, line width=1.3pt] coordinates {(0.8,12) (1.0,14) (1.2,16) (1.35,17) (1.5,18)};
  \addplot[qorange, opacity=0.2, line width=1pt] coordinates {(0.9,20) (1.05,26) (1.2,32) (1.35,37) (1.5,42) (1.65,46) (1.8,50)};
  \addplot[qorange, opacity=0.15, line width=1pt] coordinates {(0.9,18) (1.1,24) (1.3,28) (1.5,32) (1.7,35) (1.9,37) (2.0,38)};
  \addplot[mst] table[x=s,y=q]{\meas};
  \node[font=\panfont] at (rel axis cs:0.123,0.836) {(h)};
\end{axis}
\begin{axis}[resid, at={(855pt,98pt)}, anchor=south west, xticklabels={−25,0,25}]
  \residcloud
  \addplot[mst] table[x=ri,y=q]{\meas};
  \node[font=\panfont] at (rel axis cs:0.103,0.836) {(i)};
\end{axis}
\end{tikzpicture}
\end{document}
